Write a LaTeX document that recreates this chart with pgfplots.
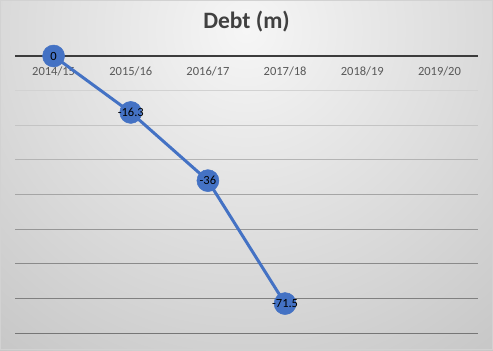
\documentclass[border=0pt]{standalone}
\usepackage{fontspec}
\setmainfont{Carlito}
\usepackage{pgfplots}
\pgfplotsset{compat=1.18}
\definecolor{ser}{HTML}{4472C4}
\definecolor{tick}{HTML}{595959}
\definecolor{ttl}{HTML}{404040}
\begin{document}
\begin{tikzpicture}[x=1bp,y=1bp]
\useasboundingbox (0,0) rectangle (493,350);
\begin{scope}
\clip (0,0) rectangle (493,350);
\shade[inner color={rgb,255:red,246;green,246;blue,246}, outer color={rgb,255:red,196;green,196;blue,196}] (246,320) circle (430);
\end{scope}
\draw[color={rgb,255:red,210;green,210;blue,210}, line width=1bp] (0.5,0.5) rectangle (492.5,349.5);
\begin{axis}[
  at={(15bp,17bp)}, anchor=south west,
  scale only axis, width=463bp, height=277bp,
  xmin=-0.5, xmax=5.5, ymin=-80, ymax=0,
  axis line style={draw=none},
  xtick={0,1,2,3,4,5},
  xticklabels={2014/15,2015/16,2016/17,2017/18,2018/19,2019/20},
  xticklabel pos=upper,
  xtick style={draw=none},
  xticklabel style={anchor=north, yshift=-7bp, font=\fontsize{12.5bp}{14bp}\selectfont, text=tick},
  ytick=\empty,
  clip=false,
  title={\textbf{Debt (m)}},
  title style={at={(0.5,1)}, anchor=center, yshift=28bp, font=\fontsize{23.5bp}{26bp}\selectfont, text=ttl},
  nodes near coords,
  point meta=explicit symbolic,
  every node near coord/.style={anchor=center, font=\fontsize{12.5bp}{14bp}\selectfont, text=black},
]
\draw[color={rgb,255:red,210;green,210;blue,210}, line width=1bp] (axis cs:-0.5,-10) -- (axis cs:5.5,-10);
\draw[color={rgb,255:red,196;green,196;blue,196}, line width=1bp] (axis cs:-0.5,-20) -- (axis cs:5.5,-20);
\draw[color={rgb,255:red,180;green,180;blue,180}, line width=1bp] (axis cs:-0.5,-30) -- (axis cs:5.5,-30);
\draw[color={rgb,255:red,165;green,165;blue,165}, line width=1bp] (axis cs:-0.5,-40) -- (axis cs:5.5,-40);
\draw[color={rgb,255:red,150;green,150;blue,150}, line width=1bp] (axis cs:-0.5,-50) -- (axis cs:5.5,-50);
\draw[color={rgb,255:red,138;green,138;blue,138}, line width=1bp] (axis cs:-0.5,-60) -- (axis cs:5.5,-60);
\draw[color={rgb,255:red,128;green,128;blue,128}, line width=1bp] (axis cs:-0.5,-70) -- (axis cs:5.5,-70);
\draw[color={rgb,255:red,118;green,118;blue,118}, line width=1bp] (axis cs:-0.5,-80) -- (axis cs:5.5,-80);
\draw[color={rgb,255:red,60;green,60;blue,60}, line width=2bp] (axis cs:-0.5,0) -- (axis cs:5.5,0);
\addplot[color=ser, line width=3bp, mark=*, mark size=11bp, mark options={fill=ser, draw=ser, line width=0.5bp}]
  coordinates {(0,0)[0] (1,-16.3)[-16.3] (2,-36)[-36] (3,-71.5)[-71.5]};
\end{axis}
\end{tikzpicture}
\end{document}
